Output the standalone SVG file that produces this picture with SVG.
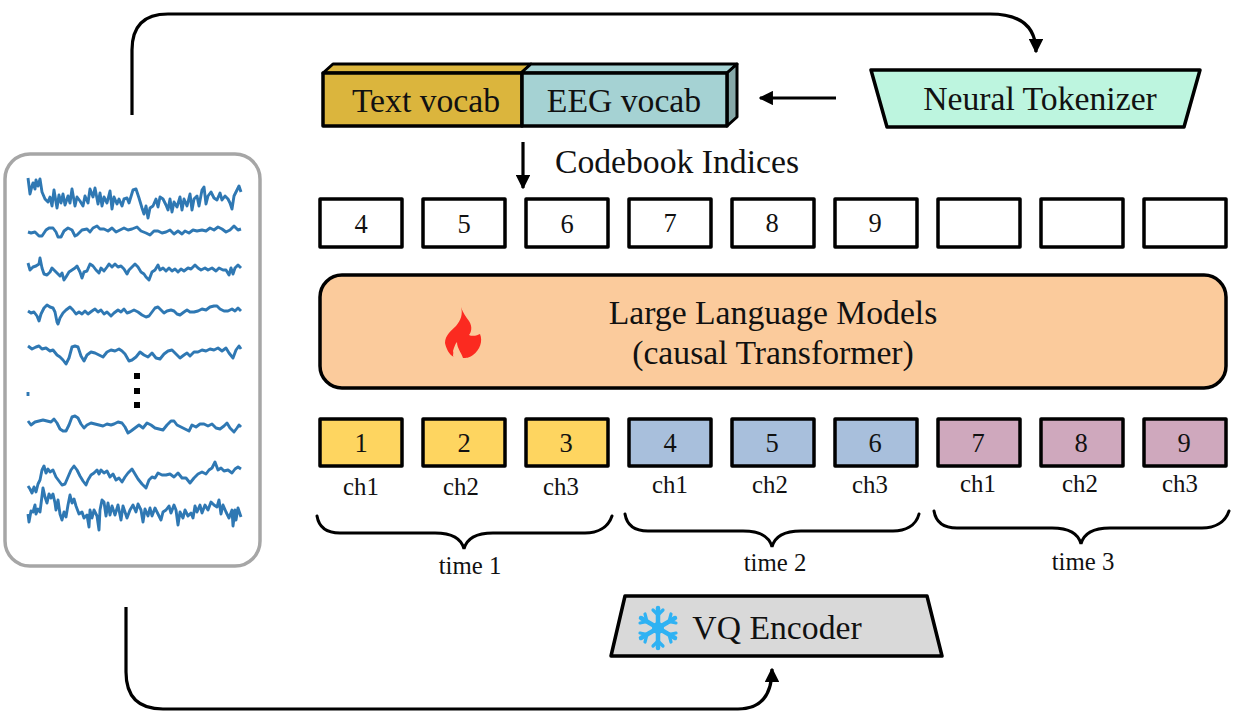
<svg xmlns="http://www.w3.org/2000/svg" width="1241" height="721" viewBox="0 0 1241 721">
<style>
text{font-family:"Liberation Serif","Times New Roman",serif;fill:#111;text-anchor:middle}
.t30{font-size:33.700px}.t26{font-size:26.500px}.t22{font-size:24.800px}
.box{stroke:#000;stroke-width:3.5;stroke-linejoin:round}
.w{fill:#fff}.y{fill:#fed560}.b{fill:#a8bfdc}.p{fill:#cfa8bd}
.sig{fill:none;stroke:#2f78b3;stroke-width:2.900;stroke-linejoin:round}
.conn{fill:none;stroke:#000;stroke-width:3.2}
.brace{fill:none;stroke:#000;stroke-width:3;stroke-linecap:round}
</style>
<defs>
<marker id="arrow" viewBox="0 0 10 10" refX="9" refY="5" markerWidth="4.500" markerHeight="4.500" orient="auto"><path d="M0,0L10,5L0,10Z" fill="#000"/></marker>
</defs>
<rect width="1241" height="721" fill="#fff"/>

<g id="connectors">
<path class="conn" d="M132,115V50Q132,14 168,14H990Q1036,14 1036,52" marker-end="url(#arrow)"/>
<path class="conn" d="M126,607V672Q126,709 163,709H738Q772,709 772,669" marker-end="url(#arrow)"/>
<path class="conn" d="M836,98H760" marker-end="url(#arrow)"/>
<path class="conn" d="M523,142V188" marker-end="url(#arrow)"/>
</g>

<g id="eeg-panel">
<rect x="5" y="154" width="255" height="412" rx="25" fill="#fff" stroke="#a6a6a6" stroke-width="3.5"/>
<polyline class="sig" points="28,178 30,194 32,186 33,183 35,189 36,180 38,186 40,179 42,192 45,199 48,202 50,197 52,206 54,190 57,208 59,195 61,203 63,194 65,205 68,196 70,203 72,189 75,206 77,197 80,201 83,206 85,196 88,203 90,189 93,197 95,188 98,204 100,193 102,206 104,197 107,203 110,191 112,209 114,197 117,204 119,199 122,206 124,199 127,198 129,203 133,190 136,189 139,198 142,208 144,214 146,206 148,218 150,208 153,206 156,199 158,207 160,197 163,199 166,205 168,210 170,199 172,212 174,202 177,207 180,197 182,210 184,199 187,206 190,194 192,210 194,199 197,196 199,206 202,190 204,187 206,204 208,196 211,192 214,198 217,200 220,193 222,200 225,196 228,199 230,203 232,209 234,196 237,190 239,186 241,192"/>
<polyline class="sig" points="28,232 31,233 35,232 39,236 42,236 46,230 49,228 53,228 56,232 58,237 61,237 64,231 68,228 72,230 75,236 77,235 82,230 87,229 90,232 93,228 97,226 100,229 104,229 108,231 112,228 116,232 120,230 124,228 128,230 132,229 137,227 141,231 146,233 150,235 154,231 158,231 162,233 166,232 170,230 174,234 178,231 182,234 185,231 189,233 193,230 197,231 202,230 206,231 210,228 214,230 218,227 222,229 226,232 230,230 234,226 238,230 241,229"/>
<polyline class="sig" points="28,263 30,270 33,267 36,266 39,264 40,258 42,268 44,274 47,275 50,272 52,268 54,270 57,273 60,276 62,273 64,280 66,277 69,272 72,270 75,268 77,266 80,272 82,278 84,272 87,271 90,264 93,266 96,270 99,273 101,268 104,271 107,267 109,264 112,267 115,264 118,267 121,266 124,269 127,274 129,270 132,267 135,264 138,267 141,272 144,274 146,277 149,280 152,272 155,270 158,265 160,270 163,268 166,271 169,268 172,271 175,269 178,272 181,269 184,271 188,268 191,269 195,265 198,268 201,270 205,268 208,270 212,268 216,271 219,268 223,270 226,270 229,275 231,268 233,274 235,268 238,265 241,268"/>
<polyline class="sig" points="28,311 31,313 34,312 37,316 39,321 41,314 44,308 47,305 50,307 53,308 55,312 57,322 58,324 60,318 63,313 66,310 70,307 73,310 76,314 79,312 82,314 85,311 88,314 92,311 95,309 98,312 101,310 104,314 107,312 111,316 114,313 118,310 121,312 124,309 127,313 130,312 134,310 138,312 142,315 146,317 149,316 152,312 155,308 158,307 161,310 164,313 167,311 171,310 174,311 177,314 180,315 184,312 187,310 190,312 194,312 198,311 202,309 206,310 210,307 214,306 217,306 220,309 224,311 228,311 232,309 235,311 238,308 241,311"/>
<polyline class="sig" points="28,346 32,349 36,347 39,346 42,349 46,348 50,351 53,350 57,355 60,357 63,360 66,364 69,358 72,347 75,346 78,347 81,356 84,361 87,355 91,352 95,353 99,355 103,357 107,352 111,350 115,351 119,349 122,351 125,354 129,361 132,360 136,357 140,352 144,355 148,357 152,353 156,358 160,359 164,354 168,351 172,350 176,354 180,358 184,355 187,353 190,356 194,352 198,352 202,350 206,351 210,349 214,350 218,348 222,351 226,348 229,353 233,358 236,350 239,346 241,349"/>
<path class="sig" d="M28,392V396"/>
<polyline class="sig" points="28,421 31,425 35,422 39,421 43,420 47,421 51,422 54,419 57,423 60,429 63,431 66,431 69,425 72,417 75,416 78,418 81,424 84,428 87,425 91,423 95,424 99,425 103,426 107,424 111,425 114,424 118,422 122,423 125,427 128,433 131,431 135,428 139,425 143,428 147,423 151,425 155,428 159,429 163,430 167,425 171,421 174,421 177,425 181,427 185,429 189,431 192,425 196,427 200,424 204,424 208,426 212,424 216,428 220,429 224,426 227,423 230,428 234,432 237,428 239,425 241,427"/>
<polyline class="sig" points="28,486 30,489 32,493 34,487 36,492 38,484 40,480 42,470 44,466 46,473 48,469 50,472 53,470 56,477 59,481 62,485 65,484 68,477 71,470 74,466 77,470 80,476 83,481 86,485 88,480 91,475 94,473 97,470 99,474 101,470 104,473 107,471 110,477 113,474 116,480 119,478 122,482 125,477 128,473 132,469 135,474 138,479 142,484 146,488 149,480 152,477 155,478 158,473 162,475 166,475 170,474 174,477 178,473 182,478 186,478 190,483 194,478 198,474 202,472 206,474 209,470 212,468 215,462 218,470 221,468 224,471 228,470 232,473 235,469 238,467 241,469"/>
<polyline class="sig" points="28,514 29,522 31,511 33,512 35,505 36,514 38,509 40,512 42,496 43,488 45,497 47,503 49,494 51,498 53,494 55,503 56,510 58,500 60,514 62,520 64,512 66,517 68,505 70,495 72,503 74,499 76,506 79,514 82,512 84,518 87,515 89,527 90,510 92,518 94,510 97,516 99,530 100,510 102,500 104,502 106,516 108,503 110,515 112,506 115,515 118,505 121,520 123,506 125,512 127,518 130,510 133,505 136,512 138,504 141,510 143,522 145,509 148,516 150,508 152,516 155,508 158,514 161,520 163,512 166,510 169,506 171,513 174,505 176,510 178,525 180,512 183,518 185,510 188,516 191,513 193,518 195,506 197,512 200,505 202,513 205,505 208,510 211,502 214,505 217,507 219,500 221,514 223,505 226,512 229,518 232,510 233,526 235,510 236,520 238,508 241,517"/>
<rect x="134" y="373" width="6" height="6" fill="#000"/><rect x="134" y="388" width="6" height="6" fill="#000"/><rect x="134" y="402" width="6" height="6" fill="#000"/>
</g>

<g id="vocab">
<path d="M323,73L333,64H531L521,73Z" fill="#dbb53d" stroke="#000" stroke-width="3" stroke-linejoin="round"/>
<path d="M521,73L531,64H737L727,73Z" fill="#a5d2d3" stroke="#000" stroke-width="3" stroke-linejoin="round"/>
<path d="M727,73L737,64V117L727,126Z" fill="#86a8a8" stroke="#000" stroke-width="3" stroke-linejoin="round"/>
<rect class="box" x="323" y="73" width="199" height="53" fill="#dbb53d"/>
<rect class="box" x="522" y="73" width="205" height="53" fill="#a5d2d3"/>
<text class="t30" x="426" y="112">Text vocab</text>
<text class="t30" x="624" y="112">EEG vocab</text>
</g>

<g id="neural-tokenizer">
<path class="box" d="M871,70H1200L1184,127H887Z" fill="#bdf5df"/>
<text class="t30" x="1040" y="110">Neural Tokenizer</text>
</g>

<text class="t30" x="677" y="173">Codebook Indices</text>

<g id="codebook-row">
<g id="cb4"><rect class="box w" x="320" y="199" width="82" height="48"/><text class="t26" x="361" y="233">4</text></g>
<g id="cb5"><rect class="box w" x="423" y="199" width="82" height="48"/><text class="t26" x="464" y="233">5</text></g>
<g id="cb6"><rect class="box w" x="526" y="199" width="82" height="48"/><text class="t26" x="567" y="233">6</text></g>
<g id="cb7"><rect class="box w" x="629" y="199" width="82" height="48"/><text class="t26" x="670" y="232">7</text></g>
<g id="cb8"><rect class="box w" x="732" y="199" width="82" height="48"/><text class="t26" x="772" y="232">8</text></g>
<g id="cb9"><rect class="box w" x="835" y="199" width="82" height="48"/><text class="t26" x="875" y="232">9</text></g>
<g id="cb10"><rect class="box w" x="938" y="199" width="82" height="48"/></g>
<g id="cb11"><rect class="box w" x="1041" y="199" width="82" height="48"/></g>
<g id="cb12"><rect class="box w" x="1144" y="199" width="82" height="48"/></g>
</g>

<g id="llm">
<rect x="320" y="275" width="906" height="113" rx="22" fill="#fbcb9c" stroke="#000" stroke-width="3.5"/>
<path d="M461,307C463,313 466,317 469,321C473,327 471,333 469,335C473,337 478,335 480,334C483,341 480,350 473,355C469,358 466,358 463,358C461,352 457,348 457,342C455,344 454,348 453,351C454,354 452,356 454,357C449,355 446,348 445,343C445,335 452,330 456,326C461,320 463,314 461,307Z" fill="#fb2a20"/>
<text class="t30" x="773" y="324">Large Language Models</text>
<text class="t30" x="773" y="364">(causal Transformer)</text>
</g>

<g id="token-row">
<g id="t1"><rect class="box y" x="320" y="419" width="82" height="47"/><text class="t26" x="361" y="452">1</text></g>
<g id="t2"><rect class="box y" x="423" y="419" width="82" height="47"/><text class="t26" x="464" y="452">2</text></g>
<g id="t3"><rect class="box y" x="526" y="419" width="82" height="47"/><text class="t26" x="566" y="452">3</text></g>
<g id="t4"><rect class="box b" x="629" y="419" width="82" height="47"/><text class="t26" x="670" y="452">4</text></g>
<g id="t5"><rect class="box b" x="732" y="419" width="82" height="47"/><text class="t26" x="772" y="452">5</text></g>
<g id="t6"><rect class="box b" x="835" y="419" width="82" height="47"/><text class="t26" x="875" y="452">6</text></g>
<g id="t7"><rect class="box p" x="938" y="419" width="82" height="47"/><text class="t26" x="978" y="452">7</text></g>
<g id="t8"><rect class="box p" x="1041" y="419" width="82" height="47"/><text class="t26" x="1081" y="452">8</text></g>
<g id="t9"><rect class="box p" x="1144" y="419" width="82" height="47"/><text class="t26" x="1184" y="452">9</text></g>
</g>

<g id="channel-labels">
<text class="t22" x="361" y="495">ch1</text><text class="t22" x="461" y="495">ch2</text><text class="t22" x="561" y="495">ch3</text>
<text class="t22" x="670" y="493">ch1</text><text class="t22" x="770" y="493">ch2</text><text class="t22" x="870" y="493">ch3</text>
<text class="t22" x="978" y="492">ch1</text><text class="t22" x="1080" y="492">ch2</text><text class="t22" x="1180" y="492">ch3</text>
</g>

<g id="time-braces">
<path class="brace" d="M317,516C319,528 328,533 340,533H435C449,533 461,537 464,549C467,537 479,533 493,533H585C597,533 608,528 612,516"/>
<path class="brace" d="M625,514C627,526 636,531 648,531H743C757,531 769,535 772,547C775,535 787,531 801,531H893C905,531 916,526 919,514"/>
<path class="brace" d="M934,511C936,523 945,528 957,528H1052C1066,528 1078,532 1081,544C1084,532 1096,528 1110,528H1202C1214,528 1225,523 1229,511"/>
<text class="t22" x="470" y="574">time 1</text>
<text class="t22" x="775" y="571">time 2</text>
<text class="t22" x="1083" y="570">time 3</text>
</g>

<g id="vq-encoder">
<path class="box" d="M625,596H927L942,656H611Z" fill="#d9d9d9"/>
<g stroke="#2fb2f3" fill="none" stroke-linecap="round" transform="translate(658,628)">
<path stroke-width="4.500" d="M0,-20V20M-17,-10L17,10M-17,10L17,-10"/>
<path stroke-width="3.200" d="M-5,-18L0,-13L5,-18M-5,18L0,13L5,18M-18,-5L-11,-6.500L-13,-14M18,5L11,6.500L13,14M-18,5L-11,6.500L-13,14M18,-5L11,-6.500L13,-14"/>
<circle r="6" fill="#2fb2f3" stroke="none"/>
</g>
<text class="t30" x="777" y="639">VQ Encoder</text>
</g>
</svg>
